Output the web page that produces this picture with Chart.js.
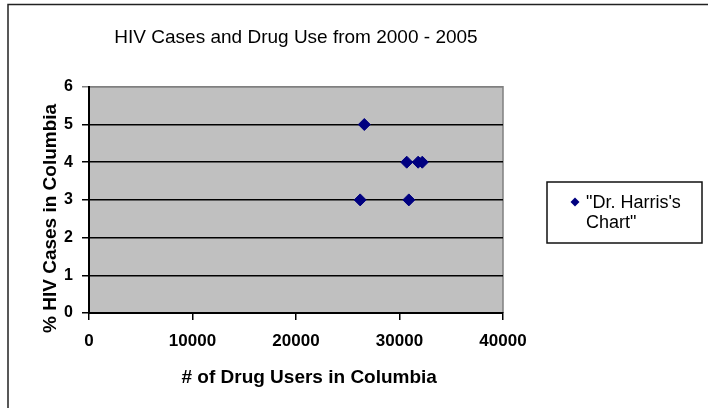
<!DOCTYPE html>
<html>
<head>
<meta charset="utf-8">
<script src="https://cdn.jsdelivr.net/npm/chart.js@4/dist/chart.umd.min.js"></script>
<style>
  html, body { margin: 0; padding: 0; background: #fff; }
  #wrap { width: 708px; height: 408px; }
</style>
</head>
<body>
<div id="wrap"><canvas id="chart" width="708" height="408"></canvas></div>
<script>
// values
const drugUsers = [26600, 30700, 31800, 32200, 26200, 30900];
const hivPercent = [5, 4, 4, 4, 3, 3];
const seriesName = '"Dr. Harris\'s Chart"';
const legendLines = ['"Dr. Harris\'s', 'Chart"'];
const xMin = 0, xMax = 40000, xStep = 10000;
const yMin = 0, yMax = 6, yStep = 1;

const FONT = "'Liberation Sans', Arial, sans-serif";
const NAVY = '#000080';

// gray plot area, outer frame and the boxed legend
let decorPlugin = {
    id: 'decor',
    beforeDraw(chart) {
        let ctx = chart.ctx, a = chart.chartArea;
        ctx.save();
        ctx.fillStyle = '#fff';
        ctx.fillRect(0, 0, chart.width, chart.height);
        ctx.fillStyle = '#c0c0c0';
        ctx.fillRect(a.left, a.top, a.right - a.left, a.bottom - a.top);
        ctx.strokeStyle = '#808080';
        ctx.lineWidth = 1.5;
        ctx.beginPath();
        ctx.moveTo(a.left, a.top);
        ctx.lineTo(a.right, a.top);
        ctx.lineTo(a.right, a.bottom);
        ctx.stroke();
        ctx.strokeStyle = '#222';
        ctx.lineWidth = 1.5;
        ctx.strokeRect(8, 4.5, 900, 600);
        ctx.restore();
    },
    afterDraw(chart) {
        let ctx = chart.ctx;
        ctx.save();
        ctx.fillStyle = '#fff';
        ctx.fillRect(547, 182, 155, 61);
        ctx.strokeStyle = '#111';
        ctx.lineWidth = 1.5;
        ctx.strokeRect(547, 182, 155, 61);
        // marker
        ctx.fillStyle = NAVY;
        ctx.beginPath();
        ctx.moveTo(575, 197.5);
        ctx.lineTo(579.5, 202);
        ctx.lineTo(575, 206.5);
        ctx.lineTo(570.5, 202);
        ctx.closePath();
        ctx.fill();
        ctx.fillStyle = '#000';
        ctx.font = '18px ' + FONT;
        ctx.textBaseline = 'middle';
        ctx.fillText(legendLines[0], 586, 203);
        ctx.fillText(legendLines[1], 586, 223);
        ctx.restore();
    }
};

let ctx = document.querySelector('#chart');
let chart = new Chart(ctx, {
    type: 'scatter',
    data: {
        datasets: [{
            label: seriesName,
            data: drugUsers.map((x, i) => ({x: x, y: hivPercent[i]})),
            pointStyle: 'rectRot',
            pointRadius: 6,
            pointHoverRadius: 6,
            backgroundColor: NAVY,
            borderColor: NAVY,
            borderWidth: 1
        }]
    },
    options: {
        responsive: false,
        animation: false,
        layout: { padding: { top: 8, left: 36, right: 205, bottom: 15 } },
        plugins: {
            legend: { display: false },
            tooltip: { enabled: false },
            title: {
                display: true,
                text: 'HIV Cases and Drug Use from 2000 - 2005',
                fullSize: false,
                color: '#000',
                font: { family: FONT, size: 19, weight: 'normal', lineHeight: 1.2 },
                padding: { top: 18, bottom: 38 }
            }
        },
        scales: {
            x: {
                type: 'linear',
                min: xMin, max: xMax,
                afterFit(axis) { axis.height = 80; },
                ticks: {
                    stepSize: xStep,
                    padding: 11,
                    color: '#000',
                    font: { family: FONT, size: 17, weight: 'bold' },
                    callback: (v) => String(v)
                },
                grid: { drawOnChartArea: false, tickLength: 7, color: '#000', lineWidth: 1.5 },
                border: { color: '#000', width: 2 },
                title: {
                    display: true,
                    // leading spaces push the centred title a little right
                    text: '     # of Drug Users in Columbia',
                    color: '#000',
                    font: { family: FONT, size: 19, weight: 'bold' },
                    padding: { top: 16 }
                }
            },
            y: {
                min: yMin, max: yMax,
                afterFit(axis) { axis.width = 53; },
                ticks: {
                    stepSize: yStep,
                    padding: 9,
                    color: '#000',
                    font: { family: FONT, size: 16, weight: 'bold' }
                },
                grid: {
                    tickLength: 7,
                    lineWidth: 1.5,
                    color: (c) => (c.tick && c.tick.value === yMax) ? '#808080' : '#000'
                },
                border: { color: '#000', width: 2 },
                title: {
                    display: true,
                    // trailing spaces nudge the centred title down, as in the original
                    text: '% HIV Cases in Columbia       ',
                    color: '#000',
                    font: { family: FONT, size: 19, weight: 'bold' },
                    padding: { top: 3, bottom: 3 }
                }
            }
        }
    },
    plugins: [decorPlugin]
});
</script>
</body>
</html>
